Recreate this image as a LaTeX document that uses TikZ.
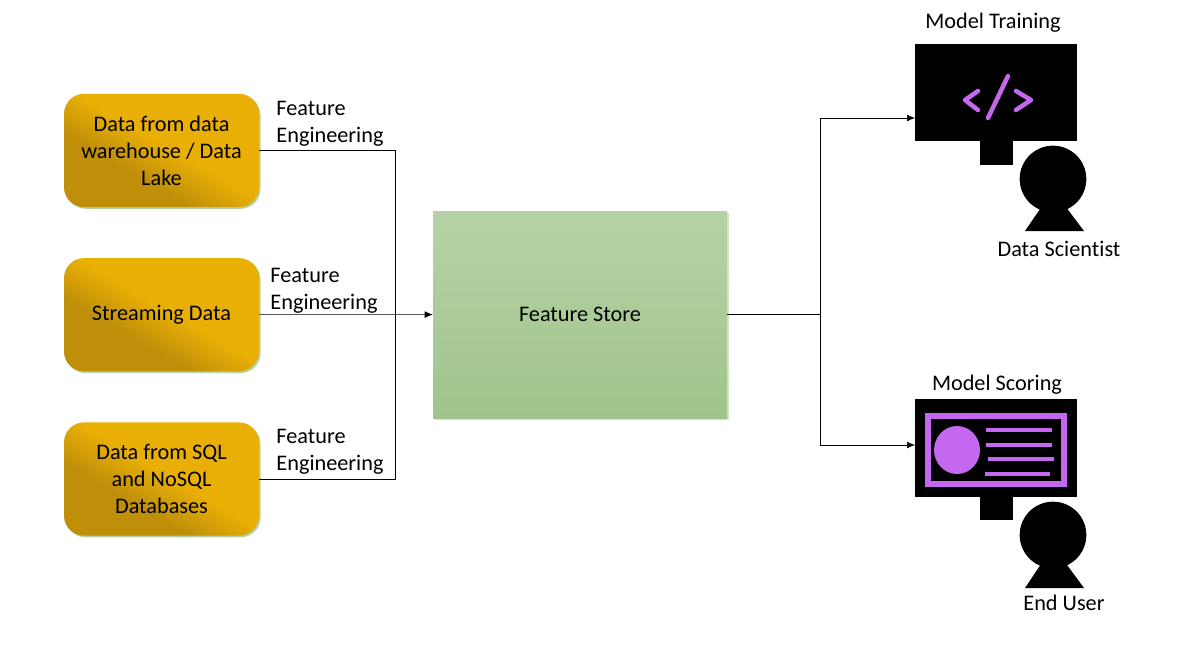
\documentclass[tikz,border=0pt]{standalone}
\usepackage{fontspec}
\setmainfont[Ligatures=NoCommon]{Carlito}
\usetikzlibrary{positioning,shadows,arrows.meta}
\definecolor{amberlt}{HTML}{E9AF05}
\definecolor{amberdk}{HTML}{BF8F0A}
\definecolor{sagelt}{HTML}{B6D2A6}
\definecolor{sagedk}{HTML}{A0C48B}
\definecolor{fringe}{HTML}{B4D3A0}
\definecolor{violet}{HTML}{C468F0}
\pgfdeclareverticalshading{amberfade}{100bp}{color(0bp)=(amberdk); color(38bp)=(amberdk); color(52bp)=(amberlt); color(100bp)=(amberlt)}
\tikzset{
  srcbox/.style={rounded corners=15pt,minimum width=146.25pt,minimum height=85pt,inner sep=0pt,
    align=center,shading=amberfade,shading angle=-30,
    drop shadow={shadow xshift=1.2pt,shadow yshift=-1.2pt,fill=fringe,opacity=1}},
  storebox/.style={minimum width=220.5pt,minimum height=155.25pt,inner sep=0pt,
    top color=sagelt,bottom color=sagedk,
    drop shadow={shadow xshift=1.2pt,shadow yshift=-1.2pt,fill=fringe,opacity=.6}},
  screen/.style={fill=black,minimum width=121.5pt,minimum height=73pt,inner sep=0pt},
  stand/.style={fill=black,minimum width=24.75pt,minimum height=18pt,inner sep=0pt},
  head/.style={circle,fill=black,minimum size=50pt,inner sep=0pt},
  lbl/.style={inner sep=0pt,align=left},
  glyph/.style={violet,line width=3.4pt,line cap=round,line join=round},
  rowline/.style={violet,line width=3pt}
}
\begin{document}
\begin{tikzpicture}[x=0.75pt,y=-0.75pt,>={Latex[length=6pt,width=5pt]},on grid,node distance=123.2pt,
    font=\fontsize{16.7}{20.25}\selectfont]
   \useasboundingbox (0,0) rectangle (1189,661);
   % sources and store
   \node[srcbox] (src_1) at (161.5,150.5) {Data from data\\warehouse / Data\\Lake};
   \node[srcbox] (src_2) [below=of src_1] {Streaming Data};
   \node[srcbox] (src_3) [below=of src_2] {Data from SQL\\and NoSQL\\Databases};
   \node[storebox] (store) at (580,314.5) {Feature Store};
   \node[lbl] (fe_1) at (330,124) {Feature\\Engineering};
   \node[lbl] (fe_2) at (324,290.5) {Feature\\Engineering};
   \node[lbl] (fe_3) at (330,451.5) {Feature\\Engineering};
   % model training
   \node[screen] (mon_1) at (996,92.5) {};
   \node[stand] (foot_1) at (996.5,152.5) {};
   \fill (1053,190) -- (1084,231) -- (1025,231) -- cycle;
   \node[head] (head_1) at (1053,179) {};
   \node[lbl] (title_1) at (993,22.5) {Model Training};
   \node[lbl] (user_1) at (1059,249) {Data Scientist};
   \draw[glyph] (978,91) -- (965,100) -- (978,110);
   \draw[glyph] (1008,76) -- (988,118);
   \draw[glyph] (1016,91) -- (1031,100) -- (1016,110);
   % model scoring
   \node[screen] (mon_2) at (996,448) {};
   \node[stand] (foot_2) at (996.5,507.5) {};
   \fill (1053,546) -- (1084,588) -- (1025,588) -- cycle;
   \node[head] (head_2) at (1053,535) {};
   \node[lbl] (title_2) at (997,384.5) {Model Scoring};
   \node[lbl] (user_2) at (1064,603) {End User};
   \draw[violet,line width=4.8pt] (928,416) rectangle (1064,484);
   \fill[violet] (957,450) ellipse [x radius=23,y radius=24];
   \draw[rowline] (986,430) -- (1052,430);
   \draw[rowline] (986,445) -- (1052,445);
   \draw[rowline] (988,459) -- (1054,459);
   \draw[rowline] (985,474) -- (1050,474);
   % connectors
   \coordinate (join_l) at (395,314.5);
   \coordinate (join_r) at (820,314.5);
   \coordinate (in_1) at (915,118);
   \coordinate (in_2) at (915,445);
   \draw (src_1.east) -| (join_l);
   \draw (src_3.east) -| (join_l);
   \draw (store) -- (join_r);
   \path[->]
    (src_2) edge (store)
    (join_r) edge [to path={|- (\tikztotarget)}] (in_1)
             edge [to path={|- (\tikztotarget)}] (in_2);
\end{tikzpicture}
\end{document}
